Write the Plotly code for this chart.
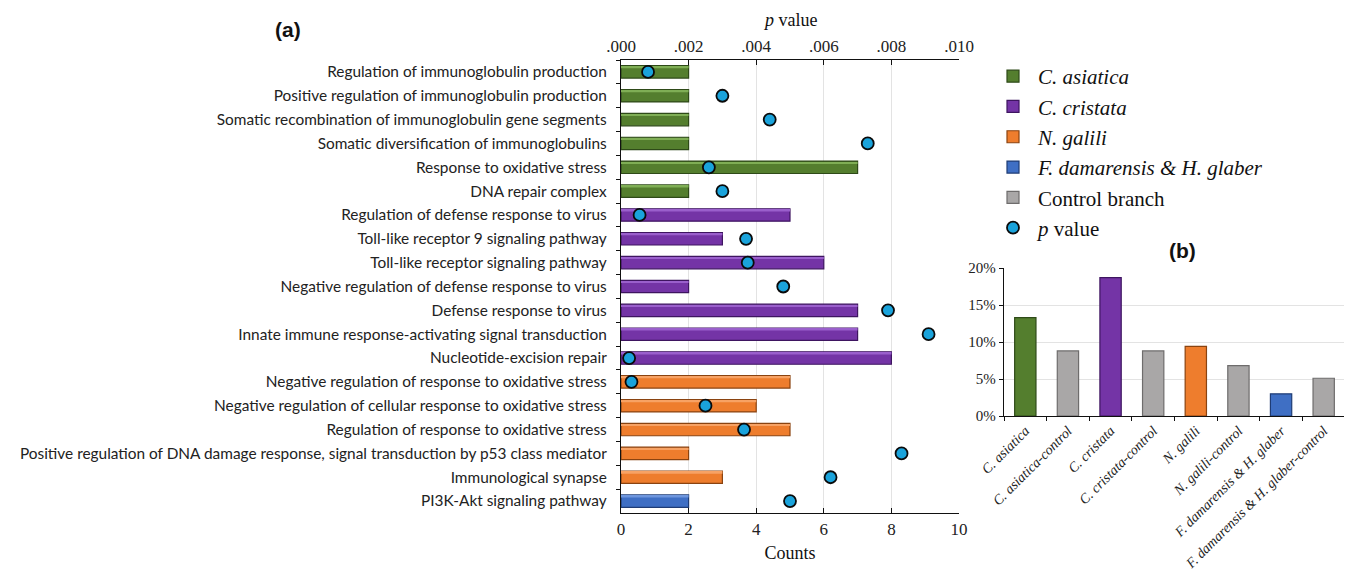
import plotly.graph_objects as go

# ---------------- data ----------------
terms = [
    "Regulation of immunoglobulin production",
    "Positive regulation of immunoglobulin production",
    "Somatic recombination of immunoglobulin gene segments",
    "Somatic diversification of immunoglobulins",
    "Response to oxidative stress",
    "DNA repair complex",
    "Regulation of defense response to virus",
    "Toll-like receptor 9 signaling pathway",
    "Toll-like receptor signaling pathway",
    "Negative regulation of defense response to virus",
    "Defense response to virus",
    "Innate immune response-activating signal transduction",
    "Nucleotide-excision repair",
    "Negative regulation of response to oxidative stress",
    "Negative regulation of cellular response to oxidative stress",
    "Regulation of response to oxidative stress",
    "Positive regulation of DNA damage response, signal transduction by p53 class mediator",
    "Immunological synapse",
    "PI3K-Akt signaling pathway",
]
counts = [2, 2, 2, 2, 7, 2, 5, 3, 6, 2, 7, 7, 8, 5, 4, 5, 2, 3, 2]
pvalues = [0.0008, 0.0030, 0.0044, 0.0073, 0.0026, 0.0030, 0.00055, 0.0037, 0.00375,
           0.0048, 0.0079, 0.0091, 0.00024, 0.00031, 0.0025, 0.00364, 0.0083, 0.0062, 0.0050]
groups = ["C. asiatica"] * 6 + ["C. cristata"] * 7 + ["N. galili"] * 5 + ["F. damarensis & H. glaber"]

group_names = ["C. asiatica", "C. cristata", "N. galili", "F. damarensis & H. glaber"]
group_colors = ["#547E2E", "#7434A6", "#EE7D2D", "#3F6FC4"]
group_lights = ["#7FAE55", "#9A5FCC", "#F7A264", "#6E96DD"]
group_edges = ["#2E4A18", "#3E1560", "#8A4310", "#1F3C75"]
control_color = "#A9A7A7"
control_edge = "#6E6C6C"

b_categories = ["C. asiatica", "C. asiatica-control", "C. cristata", "C. cristata-control",
                "N. galili", "N. galili-control", "F. damarensis & H. glaber",
                "F. damarensis & H. glaber-control"]
b_values = [13.3, 8.8, 18.7, 8.8, 9.4, 6.8, 3.0, 5.1]
b_is_control = [False, True, False, True, False, True, False, True]
b_group = ["C. asiatica", None, "C. cristata", None, "N. galili", None, "F. damarensis & H. glaber", None]

p_ticks = [0, 0.002, 0.004, 0.006, 0.008, 0.010]
p_ticktext = [".000", ".002", ".004", ".006", ".008", ".010"]
pct_ticks = [0, 5, 10, 15, 20]
pct_text = ["0%", "5%", "10%", "15%", "20%"]

W, H = 1352, 571
OFF = 8  # page body offset of the figure


def px(x):
    return (x - OFF) / W


def py(y):
    return 1 - (y - OFF) / H


serif = "Liberation Serif, Times New Roman, serif"

fig = go.Figure()

# ---------------- panel (a) bars ----------------
for g, c, lc, e in zip(group_names, group_colors, group_lights, group_edges):
    ys = [t for t, gg in zip(terms, groups) if gg == g]
    xs = [v for v, gg in zip(counts, groups) if gg == g]
    fig.add_trace(go.Bar(
        x=xs, y=ys, orientation="h", name="<i>%s</i>" % g.replace("&", "&amp;"),
        marker=dict(color=c, line=dict(color=e, width=1.2)), width=0.52,
        xaxis="x", yaxis="y", legendgroup=g, showlegend=True,
    ))
    # bevel highlight along the upper edge of each bar
    fig.add_trace(go.Bar(
        x=xs, y=ys, orientation="h", marker=dict(color=lc, line=dict(width=0)),
        width=0.07, offset=-0.22, xaxis="x", yaxis="y", legendgroup=g,
        showlegend=False, hoverinfo="skip",
    ))

# ---------------- panel (b) bars ----------------
for g, c, e in zip(group_names, group_colors, group_edges):
    xs = [cat for cat, gg in zip(b_categories, b_group) if gg == g]
    ys = [v for v, gg in zip(b_values, b_group) if gg == g]
    fig.add_trace(go.Bar(
        x=xs, y=ys, marker=dict(color=c, line=dict(color=e, width=1.2)), width=0.5,
        xaxis="x3", yaxis="y3", legendgroup=g, showlegend=False,
    ))
fig.add_trace(go.Bar(
    x=[cat for cat, ic in zip(b_categories, b_is_control) if ic],
    y=[v for v, ic in zip(b_values, b_is_control) if ic],
    marker=dict(color=control_color, line=dict(color=control_edge, width=1.2)), width=0.5,
    xaxis="x3", yaxis="y3", name="Control branch", showlegend=True,
))

# ---------------- p values ----------------
fig.add_trace(go.Scatter(
    x=pvalues, y=terms, mode="markers", name="<i>p</i> value",
    marker=dict(size=12, color="#1AA3DB", line=dict(color="#0A0A0A", width=1.8)),
    xaxis="x2", yaxis="y",
))

# ---------------- layout ----------------
a_x0, a_x1 = px(621), px(959)
a_y0, a_y1 = py(513), py(60)
b_x0, b_x1 = px(1004), px(1345)
b_y0, b_y1 = py(416), py(268)

fig.update_layout(
    width=W, height=H,
    margin=dict(l=0, r=0, t=0, b=0, autoexpand=False),
    paper_bgcolor="white", plot_bgcolor="white",
    barmode="overlay",
    showlegend=True,
    legend=dict(x=px(988), y=py(56), xanchor="left", yanchor="top",
                font=dict(family=serif, size=21, color="#111"),
                bgcolor="rgba(0,0,0,0)", tracegroupgap=0, itemwidth=40,
                traceorder="normal"),
    xaxis=dict(domain=[a_x0, a_x1], range=[0, 10], dtick=2, anchor="y", automargin=False,
               showline=True, linecolor="#111", linewidth=1.3,
               ticks="inside", ticklen=5, tickcolor="#111",
               showgrid=True, gridcolor="#E3E3E3", gridwidth=1.2, zeroline=False,
               tickfont=dict(family=serif, size=17, color="#222"),
               title=dict(text="Counts", font=dict(family=serif, size=18, color="#111"), standoff=8)),
    xaxis2=dict(domain=[a_x0, a_x1], range=[0, 0.010], overlaying="x", side="top", anchor="y",
                automargin=False, tickvals=p_ticks, ticktext=p_ticktext,
                showline=True, linecolor="#111", linewidth=1.3,
                ticks="inside", ticklen=5, tickcolor="#111", showgrid=False, zeroline=False,
                tickfont=dict(family=serif, size=17, color="#222")),
    yaxis=dict(domain=[a_y0, a_y1], type="category", categoryorder="array", categoryarray=terms,
               range=[len(terms) - 0.5, -0.5], anchor="x", automargin=False,
               showline=True, linecolor="#111", linewidth=1.3,
               ticks="outside", ticklen=4, tickcolor="#111", tickson="boundaries",
               showgrid=False, ticklabelstandoff=10,
               tickfont=dict(family="Lato, Open Sans, sans-serif", size=15.4, color="#222")),
    xaxis3=dict(domain=[b_x0, b_x1], type="category", categoryorder="array", categoryarray=b_categories,
                anchor="y3", automargin=False, showline=True, linecolor="#111", linewidth=1.3,
                ticks="outside", ticklen=4, tickcolor="#111", tickson="boundaries",
                tickangle=-45, tickfont=dict(family=serif, size=14, color="#222"),
                tickvals=b_categories, ticktext=["<i>%s</i>" % c.replace("&", "&amp;") for c in b_categories]),
    yaxis3=dict(domain=[b_y0, b_y1], range=[0, 20], anchor="x3", automargin=False,
                tickvals=pct_ticks, ticktext=pct_text,
                showline=True, linecolor="#111", linewidth=1.3, ticks="outside", ticklen=4,
                tickcolor="#111", showgrid=True, gridcolor="#E3E3E3", zeroline=False,
                tickfont=dict(family=serif, size=15, color="#222")),
    annotations=[
        dict(text="<i>p</i> value", x=px(790), y=py(20), xref="paper", yref="paper",
             xanchor="center", yanchor="middle", showarrow=False,
             font=dict(family=serif, size=18, color="#111")),
        dict(text="<b>(a)</b>", x=px(288), y=py(29), xref="paper", yref="paper",
             xanchor="center", yanchor="middle", showarrow=False,
             font=dict(family="Liberation Sans, Arial, sans-serif", size=21, color="#111")),
        dict(text="<b>(b)</b>", x=px(1182), y=py(251), xref="paper", yref="paper",
             xanchor="center", yanchor="middle", showarrow=False,
             font=dict(family="Liberation Sans, Arial, sans-serif", size=21, color="#111")),
    ],
)

fig.write_html("out.html")
